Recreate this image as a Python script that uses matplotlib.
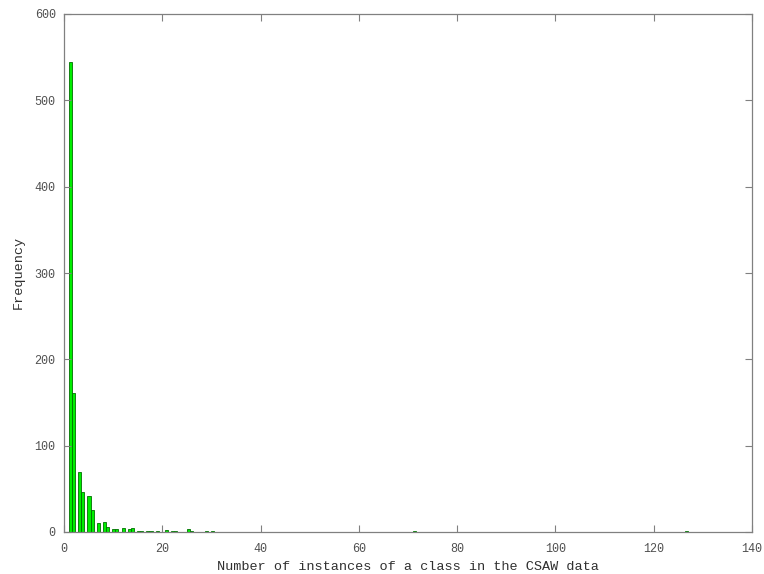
import numpy as np
import matplotlib
matplotlib.use("Agg")
import matplotlib.pyplot as plt

# number of instances of a class -> how many classes have that count
instances = [1, 2, 3, 4, 5, 6, 7, 8, 9, 10, 11, 12, 13, 14, 15, 16, 17, 18,
             19, 21, 22, 23, 25, 26, 29, 30, 71, 127]
frequency = [544, 161, 70, 46, 42, 26, 10, 12, 6, 3, 4, 5, 3, 5, 1, 1, 1, 1,
             1, 2, 1, 1, 3, 1, 1, 1, 1, 1]

n_bins = 200
xticks = [0, 20, 40, 60, 80, 100, 120, 140]
yticks = [0, 100, 200, 300, 400, 500, 600]

plt.rcParams['font.family'] = ['Liberation Mono', 'DejaVu Sans Mono']

fig = plt.figure(figsize=(7.64, 5.74), dpi=100)
ax = fig.add_axes([64 / 764, 42 / 574, 688 / 764, 518 / 574])

ax.hist(instances, bins=n_bins, range=(min(instances), max(instances)),
        weights=frequency, facecolor='#00ee00', edgecolor='#007000',
        linewidth=0.6)

ax.set_xlim(0, 140)
ax.set_ylim(0, 600)
ax.set_xticks(xticks)
ax.set_yticks(yticks)

spine_col = '#808080'
for s in ax.spines.values():
    s.set_color(spine_col)
    s.set_linewidth(0.9)

ax.tick_params(direction='in', length=5, width=0.8, color=spine_col,
               labelcolor='#505050', labelsize=8.5,
               top=True, right=True)
ax.tick_params(axis='y', pad=6)
ax.tick_params(axis='x', pad=8)

ax.set_xlabel('Number of instances of a class in the CSAW data',
              fontsize=9.7, color='#303030')
ax.set_ylabel('Frequency', fontsize=9.7, color='#303030')
ax.xaxis.set_label_coords(0.5, -29 / 518)
ax.yaxis.set_label_coords(-39 / 688, 0.502)

fig.savefig('out.png', dpi=100)
